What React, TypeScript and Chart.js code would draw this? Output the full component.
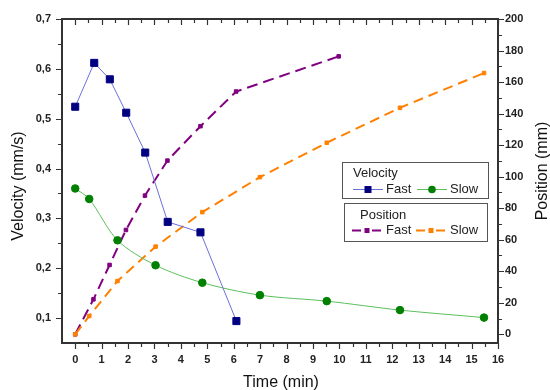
import React, { useEffect, useRef } from 'react';
import { Chart, registerables } from 'chart.js';

Chart.register(...registerables);

// ---- data ----
const timeFastVel = [0, 0.72, 1.31, 1.93, 2.65, 3.5, 4.74, 6.1];
const velocityFast = [0.524, 0.612, 0.579, 0.512, 0.432, 0.293, 0.272, 0.094];

const timeSlow = [0, 0.53, 1.6, 3.04, 4.81, 6.99, 9.52, 12.29, 15.47];
const velocitySlow = [0.36, 0.339, 0.256, 0.206, 0.171, 0.146, 0.134, 0.116, 0.101];

const timeFastPos = [0, 0.69, 1.3, 1.92, 2.64, 3.49, 4.74, 6.09, 9.97];
const positionFast = [0, 22.2, 44, 66.2, 88, 110.2, 132, 154, 176.3];
const positionSlow = [0, 11.6, 33.8, 55.6, 77.5, 99.7, 121.5, 143.7, 165.7];

const timeTicks = [0, 1, 2, 3, 4, 5, 6, 7, 8, 9, 10, 11, 12, 13, 14, 15, 16];
const velocityTicks = [0.1, 0.2, 0.3, 0.4, 0.5, 0.6, 0.7];
const positionTicks = [0, 20, 40, 60, 80, 100, 120, 140, 160, 180, 200];

const xTitle = 'Time (min)';
const yLeftTitle = 'Velocity (mm/s)';
const yRightTitle = 'Position (mm)';
const legendVelocityTitle = 'Velocity';
const legendPositionTitle = 'Position';
const seriesNames = ['Fast', 'Slow'];

const C_BLUE_LINE = '#6b70d8';
const C_BLUE_MARK = '#000080';
const C_GREEN_LINE = '#5cbf5c';
const C_GREEN_MARK = '#008000';
const C_PURPLE = '#800080';
const C_ORANGE = '#ff8000';

const FONT = '"Liberation Sans", Arial, sans-serif';

const pts = (xs: number[], ys: number[]) => ys.map((y, i) => ({ x: xs[i], y }));

const decorPlugin = {
  id: 'decor',
  afterDraw(chart: any) {
    const { ctx, chartArea: a, scales } = chart;
    const sx = scales.x;
    const syl = scales.yV;
    const syr = scales.yP;
    ctx.save();
    // frame
    ctx.strokeStyle = '#333';
    ctx.lineWidth = 2;
    ctx.strokeRect(a.left, a.top, a.right - a.left, a.bottom - a.top);
    ctx.lineWidth = 1.2;
    ctx.beginPath();
    // x ticks (bottom outward, top inward)
    for (let v = 0; v <= 16.001; v += 0.5) {
      const px = Math.round(sx.getPixelForValue(v)) + 0.5;
      const major = Math.abs(v - Math.round(v)) < 1e-6;
      const len = major ? 6 : 4;
      ctx.moveTo(px, a.bottom);
      ctx.lineTo(px, a.bottom + len);
      ctx.moveTo(px, a.top);
      ctx.lineTo(px, a.top + len);
    }
    // left ticks
    for (let k = 2; k <= 14; k++) {
      const v = k * 0.05;
      const py = Math.round(syl.getPixelForValue(v)) + 0.5;
      const len = k % 2 === 0 ? 6 : 4;
      ctx.moveTo(a.left, py);
      ctx.lineTo(a.left - len, py);
    }
    // right ticks
    for (let v = 0; v <= 200; v += 10) {
      const py = Math.round(syr.getPixelForValue(v)) + 0.5;
      const len = v % 20 === 0 ? 6 : 4;
      ctx.moveTo(a.right, py);
      ctx.lineTo(a.right + len, py);
    }
    ctx.stroke();

    // axis titles
    ctx.fillStyle = '#111';
    ctx.font = `16px ${FONT}`;
    ctx.textAlign = 'center';
    ctx.textBaseline = 'alphabetic';
    ctx.fillText(xTitle, (a.left + a.right) / 2 + 1, 387);
    ctx.save();
    ctx.translate(23, (a.top + a.bottom) / 2 + 5);
    ctx.rotate(-Math.PI / 2);
    ctx.fillText(yLeftTitle, 0, 0);
    ctx.restore();
    ctx.save();
    ctx.translate(547, (a.top + a.bottom) / 2 - 10);
    ctx.rotate(-Math.PI / 2);
    ctx.fillText(yRightTitle, 0, 0);
    ctx.restore();

    // legends
    const drawBox = (x: number, y: number, w: number, h: number) => {
      ctx.fillStyle = '#fff';
      ctx.fillRect(x, y, w, h);
      ctx.strokeStyle = '#555';
      ctx.lineWidth = 1;
      ctx.strokeRect(x + 0.5, y + 0.5, w, h);
    };
    ctx.font = `13px ${FONT}`;
    ctx.textAlign = 'left';
    ctx.textBaseline = 'middle';

    // velocity legend
    drawBox(342, 162, 146, 36);
    ctx.fillStyle = '#222';
    ctx.fillText(legendVelocityTitle, 353, 173);
    let ry = 189.5;
    ctx.strokeStyle = C_BLUE_LINE;
    ctx.lineWidth = 1;
    ctx.beginPath();
    ctx.moveTo(353, ry);
    ctx.lineTo(383, ry);
    ctx.stroke();
    ctx.fillStyle = C_BLUE_MARK;
    ctx.fillRect(364.5, ry - 3.5, 7, 7);
    ctx.fillStyle = '#222';
    ctx.fillText(seriesNames[0], 386, ry);
    ctx.strokeStyle = C_GREEN_LINE;
    ctx.beginPath();
    ctx.moveTo(417, ry);
    ctx.lineTo(447, ry);
    ctx.stroke();
    ctx.fillStyle = C_GREEN_MARK;
    ctx.beginPath();
    ctx.arc(432, ry, 3.8, 0, Math.PI * 2);
    ctx.fill();
    ctx.fillStyle = '#222';
    ctx.fillText(seriesNames[1], 450, ry);

    // position legend
    drawBox(344, 203, 143, 38);
    ctx.fillStyle = '#222';
    ctx.fillText(legendPositionTitle, 360, 215);
    ry = 230.5;
    const dashSample = (x0: number, color: string) => {
      ctx.strokeStyle = color;
      ctx.lineWidth = 2;
      ctx.beginPath();
      ctx.moveTo(x0, ry);
      ctx.lineTo(x0 + 9, ry);
      ctx.moveTo(x0 + 20, ry);
      ctx.lineTo(x0 + 29, ry);
      ctx.stroke();
      ctx.fillStyle = color;
      ctx.fillRect(x0 + 12.5, ry - 2.5, 5, 5);
    };
    dashSample(352, C_PURPLE);
    ctx.fillStyle = '#222';
    ctx.fillText(seriesNames[0], 386, ry);
    dashSample(416, C_ORANGE);
    ctx.fillStyle = '#222';
    ctx.fillText(seriesNames[1], 450, ry);

    ctx.restore();
  },
};

export default function App() {
  const ref = useRef<HTMLCanvasElement | null>(null);
  useEffect(() => {
    if (!ref.current) return;
    const tickFont = { family: FONT, size: 11, weight: 'bold' as const };
    const chart = new Chart(ref.current, {
      type: 'line',
      data: {
        datasets: [
          {
            label: 'Velocity Fast',
            data: pts(timeFastVel, velocityFast),
            yAxisID: 'yV',
            borderColor: C_BLUE_LINE,
            borderWidth: 1,
            pointStyle: 'rect',
            pointRadius: 5,
            pointBackgroundColor: C_BLUE_MARK,
            pointBorderColor: C_BLUE_MARK,
            pointBorderWidth: 1,
            tension: 0,
          },
          {
            label: 'Velocity Slow',
            data: pts(timeSlow, velocitySlow),
            yAxisID: 'yV',
            borderColor: C_GREEN_LINE,
            borderWidth: 1,
            pointStyle: 'circle',
            pointRadius: 3.8,
            pointBackgroundColor: C_GREEN_MARK,
            pointBorderColor: C_GREEN_MARK,
            pointBorderWidth: 1,
            tension: 0.3,
          },
          {
            label: 'Position Slow',
            data: pts(timeSlow, positionSlow),
            yAxisID: 'yP',
            borderColor: C_ORANGE,
            borderWidth: 2,
            borderDash: [10, 6],
            pointStyle: 'rect',
            pointRadius: 2.5,
            pointBackgroundColor: C_ORANGE,
            pointBorderColor: C_ORANGE,
            pointBorderWidth: 1,
            tension: 0,
          },
          {
            label: 'Position Fast',
            data: pts(timeFastPos, positionFast),
            yAxisID: 'yP',
            borderColor: C_PURPLE,
            borderWidth: 2,
            borderDash: [11, 6],
            pointStyle: 'rect',
            pointRadius: 2.5,
            pointBackgroundColor: C_PURPLE,
            pointBorderColor: C_PURPLE,
            pointBorderWidth: 1,
            tension: 0,
          },
        ],
      },
      options: {
        animation: false,
        responsive: false,
        devicePixelRatio: 1,
        layout: { padding: { top: 19, left: 0, right: 0, bottom: 0 } },
        plugins: { legend: { display: false }, tooltip: { enabled: false } },
        scales: {
          x: {
            type: 'linear',
            position: 'bottom',
            min: -0.5,
            max: 16,
            afterBuildTicks: (s: any) => {
              s.ticks = timeTicks.map((v) => ({ value: v }));
            },
            afterFit: (s: any) => {
              s.height = 47;
            },
            grid: { display: false, drawTicks: false },
            border: { display: false },
            ticks: {
              padding: 10,
              font: tickFont,
              color: '#222',
              autoSkip: false,
              maxRotation: 0,
              callback: (v: any) => String(v),
            },
          },
          yV: {
            type: 'linear',
            position: 'left',
            min: 0.05,
            max: 0.7,
            afterBuildTicks: (s: any) => {
              s.ticks = velocityTicks.map((v) => ({ value: v }));
            },
            afterFit: (s: any) => {
              s.width = 62;
            },
            grid: { display: false, drawTicks: false },
            border: { display: false },
            ticks: {
              padding: 11,
              font: tickFont,
              color: '#222',
              autoSkip: false,
              callback: (v: any) => Number(v).toFixed(1).replace('.', ','),
            },
          },
          yP: {
            type: 'linear',
            position: 'right',
            min: -5.5,
            max: 200,
            afterBuildTicks: (s: any) => {
              s.ticks = positionTicks.map((v) => ({ value: v }));
            },
            afterFit: (s: any) => {
              s.width = 52;
            },
            grid: { display: false, drawTicks: false },
            border: { display: false },
            ticks: {
              padding: 7,
              font: tickFont,
              color: '#222',
              autoSkip: false,
              callback: (v: any) => String(v),
            },
          },
        },
      },
      plugins: [decorPlugin],
    });
    return () => chart.destroy();
  }, []);
  return (
    <div style={{ position: 'absolute', left: 0, top: 0, width: 550, height: 390, background: '#fff' }}>
      <canvas ref={ref} width={550} height={390} style={{ display: 'block' }} />
    </div>
  );
}
